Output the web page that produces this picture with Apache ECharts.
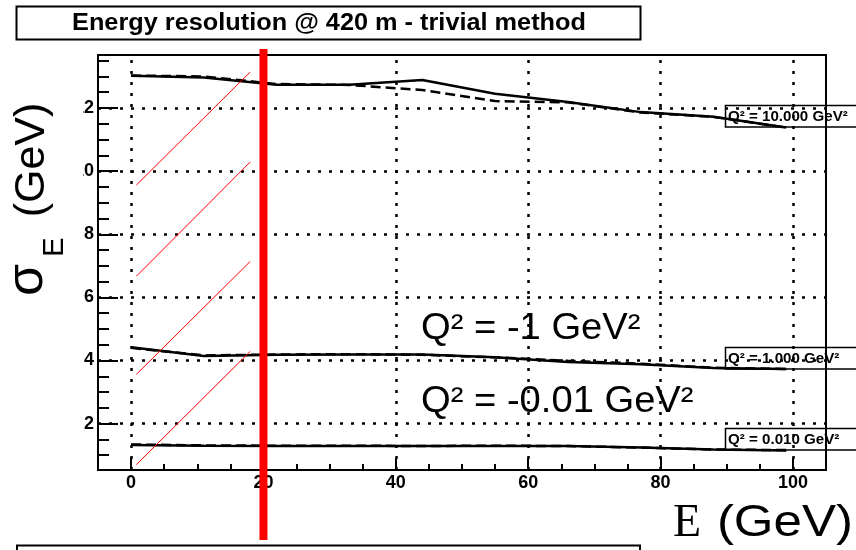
<!DOCTYPE html>
<html>
<head>
<meta charset="utf-8">
<script src="https://cdn.jsdelivr.net/npm/echarts@6/dist/echarts.min.js"></script>
<style>html,body{margin:0;padding:0;background:#fff}#c{width:856px;height:550px}</style>
</head>
<body>
<div id="c"></div>
<script>
// ---- data ----
const energy = [0, 11, 22, 33, 44, 55, 66, 77, 88, 99];
const q10000Solid = [13.02, 12.97, 12.74, 12.74, 12.89, 12.45, 12.19, 11.87, 11.72, 11.38];
const q10000Dashed = [13.03, 13.00, 12.76, 12.73, 12.57, 12.22, 12.18, 11.86, 11.72, 11.38];
const q1Solid = [4.42, 4.14, 4.18, 4.19, 4.19, 4.10, 3.95, 3.88, 3.76, 3.73];
const q1Dashed = [4.40, 4.16, 4.19, 4.20, 4.18, 4.10, 3.99, 3.90, 3.77, 3.73];
const q001Solid = [1.32, 1.30, 1.29, 1.29, 1.29, 1.29, 1.29, 1.24, 1.18, 1.15];
const q001Dashed = [1.34, 1.31, 1.30, 1.30, 1.29, 1.30, 1.29, 1.24, 1.18, 1.16];
const hatchX = [0.8, 18];
const hatchStartY = [9.56, 6.67, 3.56, 0.70];
const hatchEndY = [13.14, 10.29, 7.14, 4.29];
const redLineE = 20;
const xMajor = [0, 20, 40, 60, 80, 100];
const xMinor = [-5, 5, 10, 15, 25, 30, 35, 45, 50, 55, 65, 70, 75, 85, 90, 95, 105];
const yMajor = [2, 4, 6, 8, 10, 12];
const yMinor = [1, 1.5, 2.5, 3, 3.5, 4.5, 5, 5.5, 6.5, 7, 7.5, 8.5, 9, 9.5, 10.5, 11, 11.5, 12.5, 13, 13.5];
const curveLabels = ['Q\u00b2 = 10.000 GeV\u00b2', 'Q\u00b2 = 1.000 GeV\u00b2', 'Q\u00b2 = 0.010 GeV\u00b2'];
const titleText = 'Energy resolution @ 420 m - trivial method';
const noteTexts = ['Q\u00b2 = -1 GeV\u00b2', 'Q\u00b2 = -0.01 GeV\u00b2'];

const X_MIN = -5, X_MAX = 105, Y_MIN = 0.53, Y_MAX = 13.68;
const zip = (xs, ys) => xs.map((x, i) => [x, ys[i]]);

const chart = echarts.init(document.getElementById('c'));
const tickFont = {fontFamily: 'Liberation Sans, Arial, sans-serif', fontWeight: 'bold', fontSize: 18, color: '#000'};

const solid = {color: '#000', width: 2.5, type: 'solid'};
const dashed = {color: '#000', width: 2.5, type: [10, 5]};
function lineSeries(data, style, z) {
  return {type: 'line', data: zip(energy, data), symbol: 'none', lineStyle: style, z: z || 3, silent: true, animation: false};
}

const series = [
  Object.assign(lineSeries(q10000Dashed, dashed), {
    markLine: {
      silent: true, symbol: ['none', 'none'], animation: false, label: {show: false},
      lineStyle: {color: '#000', width: 2.5, type: [3, 8]},
      emphasis: {disabled: true},
      data: yMajor.map(v => ({yAxis: v})).concat(xMajor.map(v => ({xAxis: v})))
    }
  }),
  lineSeries(q10000Solid, solid),
  lineSeries(q1Dashed, dashed),
  lineSeries(q1Solid, solid),
  lineSeries(q001Dashed, dashed),
  lineSeries(q001Solid, solid)
];
hatchStartY.forEach((y0, i) => {
  series.push({type: 'line', data: [[hatchX[0], y0], [hatchX[1], hatchEndY[i]]], symbol: 'none',
    lineStyle: {color: '#ff0000', width: 1}, z: 5, silent: true, animation: false});
});
series.push({
  type: 'custom', clip: false, z: 20, silent: true, animation: false,
  data: [[redLineE, Y_MIN]],
  renderItem: (params, api) => {
    const p = api.coord([api.value(0), Y_MIN]);
    return {type: 'line', shape: {x1: p[0], y1: 49, x2: p[0], y2: 540}, style: {stroke: '#ff0000', lineWidth: 8}};
  }
});

const boxY = [105.5, 347.5, 428.5];
const graphic = [];
// title box
graphic.push({type: 'rect', shape: {x: 16.5, y: 6.5, width: 624, height: 33}, style: {fill: '#fff', stroke: '#000', lineWidth: 2}, z: 1});
graphic.push({type: 'text', x: 329, y: 24, scaleX: 1.1, z: 2, style: {text: titleText, font: 'bold 23px "Liberation Sans", Arial, sans-serif', fill: '#000', textAlign: 'center', textVerticalAlign: 'middle'}});
// bottom box (partially visible)
graphic.push({type: 'rect', shape: {x: 17, y: 545.5, width: 623, height: 30}, style: {fill: '#fff', stroke: '#000', lineWidth: 2}, z: 1});
// curve label boxes
boxY.forEach((y, i) => {
  graphic.push({type: 'rect', shape: {x: 725.5, y: y, width: 140, height: 21.5}, style: {fill: 'rgba(0,0,0,0)', stroke: '#000', lineWidth: 1.5}, z: 1});
  graphic.push({type: 'text', x: 728, y: y + 11.5, scaleX: 1.08, z: 1, style: {text: curveLabels[i], font: 'bold 14px "Liberation Sans", Arial, sans-serif', fill: '#000', textAlign: 'left', textVerticalAlign: 'middle'}});
});
// annotation texts
graphic.push({type: 'text', x: 421, y: 329, scaleX: 1.06, z: 4, style: {text: noteTexts[0], font: '36px "Liberation Sans", Arial, sans-serif', fill: '#000', textAlign: 'left', textVerticalAlign: 'middle'}});
graphic.push({type: 'text', x: 421, y: 402, scaleX: 1.06, z: 4, style: {text: noteTexts[1], font: '36px "Liberation Sans", Arial, sans-serif', fill: '#000', textAlign: 'left', textVerticalAlign: 'middle'}});
// y axis title
graphic.push({type: 'text', x: 28, y: 280, rotation: Math.PI / 2, z: 4, style: {text: '\u03c3', font: '52px "Liberation Sans", Arial, sans-serif', fill: '#000', textAlign: 'center', textVerticalAlign: 'middle'}});
graphic.push({type: 'text', x: 55, y: 247, rotation: Math.PI / 2, z: 4, style: {text: 'E', font: '29px "Liberation Sans", Arial, sans-serif', fill: '#000', textAlign: 'center', textVerticalAlign: 'middle'}});
graphic.push({type: 'text', x: 32, y: 160, rotation: Math.PI / 2, z: 4, style: {text: '(GeV)', font: '43px "Liberation Sans", Arial, sans-serif', fill: '#000', textAlign: 'center', textVerticalAlign: 'middle'}});
// x axis title
graphic.push({type: 'text', x: 701, y: 524, z: 4, style: {text: 'E', font: '46px "Liberation Serif", "Times New Roman", serif', fill: '#000', textAlign: 'right', textVerticalAlign: 'middle'}});
graphic.push({type: 'text', x: 853, y: 524, scaleX: 1.16, z: 4, style: {text: '(GeV)', font: '44px "Liberation Sans", Arial, sans-serif', fill: '#000', textAlign: 'right', textVerticalAlign: 'middle'}});
// clipped leading digits of upper y labels
graphic.push({type: 'rect', shape: {x: 60, y: 95, width: 23, height: 90}, style: {fill: '#fff'}, z: 50});

chart.setOption({
  animation: false,
  backgroundColor: '#fff',
  grid: {left: 98, right: 30, top: 55, bottom: 80, show: true, borderColor: '#000', borderWidth: 2, backgroundColor: 'rgba(0,0,0,0)'},
  xAxis: [
    {type: 'value', min: X_MIN, max: X_MAX, position: 'bottom',
      axisLine: {show: true, onZero: false, lineStyle: {color: '#000', width: 2}},
      axisTick: {show: true, inside: true, length: 12, customValues: xMajor, lineStyle: {color: '#000', width: 2}},
      axisLabel: {show: true, customValues: xMajor, margin: 4, ...tickFont},
      splitLine: {show: false}},
    {type: 'value', min: X_MIN, max: X_MAX, position: 'bottom',
      axisLine: {show: false, onZero: false},
      axisTick: {show: true, inside: true, length: 6, customValues: xMinor, lineStyle: {color: '#000', width: 2}},
      axisLabel: {show: false}, splitLine: {show: false}}
  ],
  yAxis: [
    {type: 'value', min: Y_MIN, max: Y_MAX, position: 'left',
      axisLine: {show: true, onZero: false, lineStyle: {color: '#000', width: 2}},
      axisTick: {show: true, inside: true, length: 20, customValues: yMajor, lineStyle: {color: '#000', width: 2}},
      axisLabel: {show: true, customValues: yMajor, margin: 4, ...tickFont},
      splitLine: {show: false}},
    {type: 'value', min: Y_MIN, max: Y_MAX, position: 'left',
      axisLine: {show: false, onZero: false},
      axisTick: {show: true, inside: true, length: 11, customValues: yMinor, lineStyle: {color: '#000', width: 2}},
      axisLabel: {show: false}, splitLine: {show: false}}
  ],
  series: series,
  graphic: graphic
});
</script>
</body>
</html>
